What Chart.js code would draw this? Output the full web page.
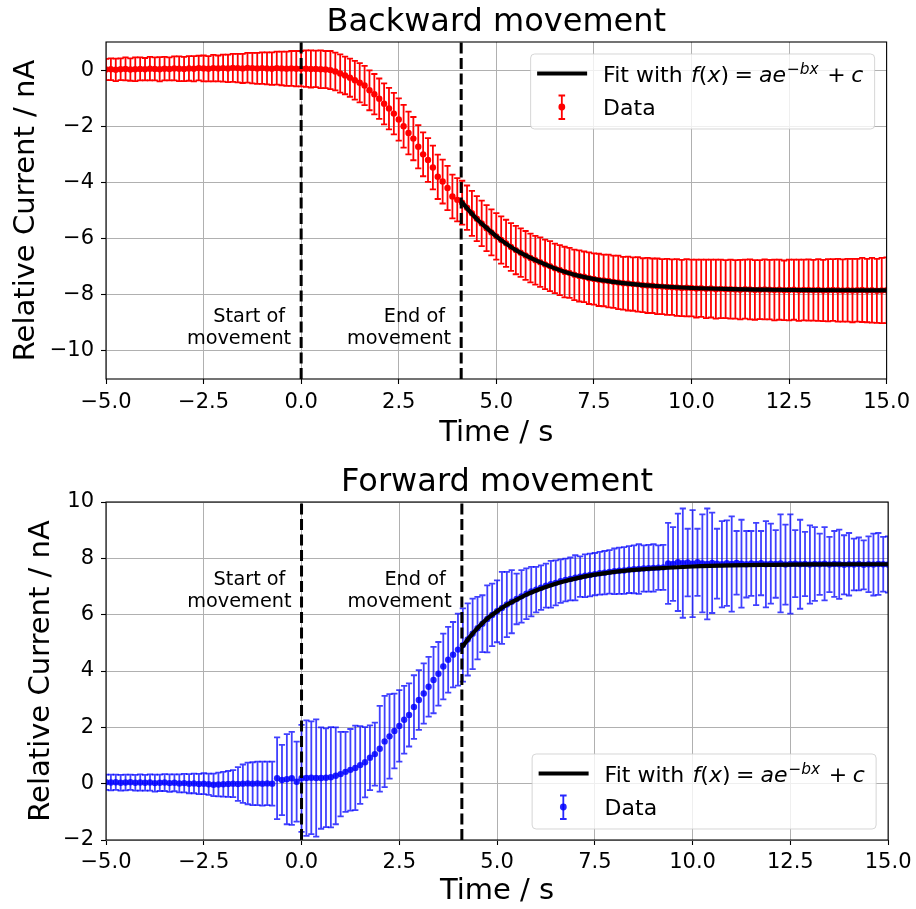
<!DOCTYPE html>
<html>
<head>
<meta charset="utf-8">
<title>Backward and forward movement</title>
<script src="https://cdn.jsdelivr.net/npm/chart.js@4.4.0/dist/chart.umd.min.js"></script>
<style>
  html, body { margin: 0; padding: 0; background: #fff; }
  #figure { position: relative; width: 916px; height: 909px; }
  canvas { position: absolute; left: 0; }
  #backward { top: 0; }
  #forward { top: 454px; }
</style>
</head>
<body>
<div id="figure">
  <canvas id="backward" width="916" height="454"></canvas>
  <canvas id="forward" width="916" height="455"></canvas>
</div>
<script>
// sample times (s), shared by both measurements
const time = [
  -5, -4.875, -4.75, -4.625, -4.5, -4.375, -4.25, -4.125,
  -4, -3.875, -3.75, -3.625, -3.5, -3.375, -3.25, -3.125,
  -3, -2.875, -2.75, -2.625, -2.5, -2.375, -2.25, -2.125,
  -2, -1.875, -1.75, -1.625, -1.5, -1.375, -1.25, -1.125,
  -1, -0.875, -0.75, -0.625, -0.5, -0.375, -0.25, -0.125,
  0, 0.125, 0.25, 0.375, 0.5, 0.625, 0.75, 0.875,
  1, 1.125, 1.25, 1.375, 1.5, 1.625, 1.75, 1.875,
  2, 2.125, 2.25, 2.375, 2.5, 2.625, 2.75, 2.875,
  3, 3.125, 3.25, 3.375, 3.5, 3.625, 3.75, 3.875,
  4, 4.125, 4.25, 4.375, 4.5, 4.625, 4.75, 4.875,
  5, 5.125, 5.25, 5.375, 5.5, 5.625, 5.75, 5.875,
  6, 6.125, 6.25, 6.375, 6.5, 6.625, 6.75, 6.875,
  7, 7.125, 7.25, 7.375, 7.5, 7.625, 7.75, 7.875,
  8, 8.125, 8.25, 8.375, 8.5, 8.625, 8.75, 8.875,
  9, 9.125, 9.25, 9.375, 9.5, 9.625, 9.75, 9.875,
  10, 10.125, 10.25, 10.375, 10.5, 10.625, 10.75, 10.875,
  11, 11.125, 11.25, 11.375, 11.5, 11.625, 11.75, 11.875,
  12, 12.125, 12.25, 12.375, 12.5, 12.625, 12.75, 12.875,
  13, 13.125, 13.25, 13.375, 13.5, 13.625, 13.75, 13.875,
  14, 14.125, 14.25, 14.375, 14.5, 14.625, 14.75, 14.875,
  15
];

// backward movement: mean relative current (nA) and its error
const backwardCurrent = [
  0.02, 0.03, 0.01, 0.03, 0.04, 0.02, 0.03, 0.04,
  0.03, 0.05, 0.04, 0.03, 0.05, 0.04, 0.06, 0.05,
  0.04, 0.06, 0.05, 0.07, 0.06, 0.05, 0.07, 0.06,
  0.07, 0.06, 0.08, 0.07, 0.06, 0.08, 0.07, 0.06,
  0.07, 0.06, 0.05, 0.07, 0.06, 0.05, 0.06, 0.05,
  0.05, 0.05, 0.04, 0.04, 0.03, 0.02, 0.0, -0.05,
  -0.12, -0.19, -0.27, -0.36, -0.45, -0.55, -0.72, -0.86,
  -1.02, -1.2, -1.37, -1.55, -1.76, -2.0, -2.24, -2.44,
  -2.73, -3.0, -3.2, -3.47, -3.8, -3.97, -4.2, -4.5,
  -4.62, -4.72, -4.9, -5.1, -5.29, -5.46, -5.63, -5.78,
  -5.92, -6.05, -6.17, -6.3, -6.41, -6.5, -6.6, -6.69,
  -6.77, -6.84, -6.92, -6.98, -7.06, -7.12, -7.19, -7.22,
  -7.29, -7.33, -7.36, -7.41, -7.44, -7.47, -7.49, -7.51,
  -7.54, -7.56, -7.59, -7.6, -7.62, -7.63, -7.66, -7.67,
  -7.68, -7.7, -7.71, -7.72, -7.73, -7.74, -7.76, -7.75,
  -7.76, -7.78, -7.77, -7.79, -7.78, -7.8, -7.79, -7.8,
  -7.8, -7.81, -7.82, -7.8, -7.81, -7.83, -7.82, -7.81,
  -7.82, -7.83, -7.82, -7.84, -7.83, -7.82, -7.84, -7.83,
  -7.83, -7.84, -7.83, -7.85, -7.84, -7.83, -7.84, -7.85,
  -7.84, -7.85, -7.84, -7.83, -7.85, -7.84, -7.86, -7.85,
  -7.84
];
const backwardError = [
  0.38, 0.39, 0.4, 0.39, 0.41, 0.4, 0.42, 0.41,
  0.4, 0.42, 0.41, 0.43, 0.42, 0.41, 0.43, 0.44,
  0.43, 0.44, 0.45, 0.44, 0.46, 0.45, 0.47, 0.46,
  0.48, 0.49, 0.5, 0.51, 0.52, 0.53, 0.54, 0.55,
  0.56, 0.57, 0.58, 0.59, 0.6, 0.61, 0.62, 0.63,
  0.63, 0.65, 0.66, 0.65, 0.67, 0.66, 0.68, 0.67,
  0.68, 0.67, 0.68, 0.69, 0.7, 0.7, 0.71, 0.72,
  0.72, 0.73, 0.74, 0.74, 0.75, 0.76, 0.76, 0.77,
  0.77, 0.78, 0.78, 0.78, 0.79, 0.78, 0.79, 0.78,
  0.77, 0.78, 0.79, 0.8, 0.8, 0.81, 0.82, 0.82,
  0.83, 0.84, 0.84, 0.85, 0.86, 0.86, 0.87, 0.87,
  0.87, 0.88, 0.88, 0.89, 0.88, 0.89, 0.9, 0.89,
  0.9, 0.91, 0.9, 0.92, 0.91, 0.93, 0.92, 0.94,
  0.93, 0.95, 0.94, 0.96, 0.95, 0.97, 0.96, 0.98,
  0.97, 0.99, 0.98, 1.0, 0.99, 1.01, 1.0, 1.02,
  1.01, 1.03, 1.02, 1.04, 1.03, 1.05, 1.04, 1.03,
  1.05, 1.04, 1.06, 1.05, 1.07, 1.06, 1.05, 1.07,
  1.06, 1.08, 1.07, 1.06, 1.08, 1.07, 1.09, 1.08,
  1.09, 1.08, 1.1, 1.09, 1.11, 1.1, 1.12, 1.11,
  1.12, 1.13, 1.12, 1.14, 1.13, 1.15, 1.14, 1.16,
  1.17
];

// forward movement: mean relative current (nA) and its error
const forwardCurrent = [
  0.05, 0.04, 0.05, 0.03, 0.04, 0.05, 0.03, 0.04,
  0.03, 0.04, 0.02, 0.03, 0.04, 0.02, 0.03, 0.01,
  0.02, 0.0, 0.01, -0.01, 0.0, -0.02, -0.04, -0.03,
  -0.02, -0.01, 0.0, -0.01, 0.0, 0.01, 0.0, 0.01,
  0.0, 0.01, 0.0, 0.19, 0.13, 0.16, 0.19, 0.07,
  0.19, 0.2, 0.21, 0.2, 0.2, 0.21, 0.23, 0.28,
  0.34, 0.42, 0.49, 0.56, 0.66, 0.76, 0.92, 1.05,
  1.24, 1.5, 1.68, 1.87, 2.05, 2.27, 2.44, 2.72,
  2.97, 3.2, 3.44, 3.68, 3.9, 4.16, 4.4, 4.58,
  4.76, 4.92, 5.12, 5.32, 5.52, 5.68, 5.85, 5.99,
  6.12, 6.24, 6.36, 6.46, 6.56, 6.65, 6.74, 6.82,
  6.89, 6.96, 7.03, 7.08, 7.13, 7.19, 7.23, 7.27,
  7.31, 7.35, 7.38, 7.41, 7.44, 7.47, 7.49, 7.52,
  7.54, 7.56, 7.57, 7.6, 7.61, 7.62, 7.64, 7.65,
  7.66, 7.67, 7.68, 7.82, 7.8, 7.86, 7.83, 7.85,
  7.81, 7.86, 7.82, 7.8, 7.84, 7.81, 7.79, 7.83,
  7.8, 7.84, 7.81, 7.79, 7.82, 7.8, 7.83, 7.79,
  7.81, 7.8, 7.82, 7.78, 7.8, 7.81, 7.79, 7.8,
  7.78, 7.8, 7.79, 7.81, 7.78, 7.8, 7.79, 7.77,
  7.79, 7.78, 7.8, 7.77, 7.79, 7.78, 7.8, 7.79,
  7.78
];
const forwardError = [
  0.27, 0.28, 0.27, 0.28, 0.28, 0.27, 0.28, 0.29,
  0.28, 0.29, 0.3, 0.29, 0.3, 0.31, 0.3, 0.32,
  0.33, 0.34, 0.35, 0.36, 0.37, 0.38, 0.4, 0.42,
  0.44, 0.46, 0.48, 0.6, 0.68, 0.74, 0.76, 0.77,
  0.78, 0.77, 0.78, 1.45, 1.25, 1.6, 1.65, 1.42,
  1.9, 2.05, 2.0, 2.08, 1.8, 1.75, 1.78, 1.72,
  1.5, 1.42, 1.45, 1.5, 1.38, 1.25, 1.15, 1.12,
  1.52, 1.62, 1.5, 1.33, 1.27, 1.2, 1.12, 1.13,
  1.06, 1.07, 1.06, 1.18, 1.13, 1.17, 1.17, 1.16,
  1.28, 1.3, 1.28, 1.25, 1.11, 1.01, 1.19, 1.11,
  1.1, 1.28, 1.16, 1.12, 0.9, 0.93, 0.9, 0.88,
  0.81, 0.79, 0.78, 0.83, 0.8, 0.77, 0.76, 0.76,
  0.8, 0.72, 0.76, 0.76, 0.75, 0.76, 0.77, 0.77,
  0.81, 0.82, 0.83, 0.83, 0.85, 0.88, 0.82, 0.83,
  0.84, 0.79, 0.8, 1.44, 1.31, 1.73, 1.94, 1.2,
  1.9, 1.19, 1.74, 1.97, 1.78, 1.24, 1.53, 1.52,
  1.69, 1.13, 1.56, 1.18, 1.15, 1.46, 1.14, 1.53,
  1.42, 1.2, 1.74, 1.42, 1.76, 1.19, 1.58, 1.14,
  1.39, 1.31, 1.09, 1.3, 0.98, 1.17, 1.23, 1.05,
  1.11, 0.92, 0.94, 0.87, 0.99, 1.1, 1.1, 0.97,
  1.0
];

// exponential fits
const fitTime = [4.1, 4.3, 4.5, 4.75, 5, 5.25, 5.5, 5.75, 6, 6.5, 7, 7.5, 8, 8.5, 9, 10, 11, 12, 13, 14, 15];
const backwardFit = [-4.67, -5.0, -5.3, -5.62, -5.92, -6.18, -6.41, -6.6, -6.77, -7.06, -7.29, -7.44, -7.54, -7.62, -7.68, -7.76, -7.8, -7.82, -7.835, -7.84, -7.845];
const forwardFit = [4.84, 5.2, 5.52, 5.86, 6.12, 6.35, 6.53, 6.71, 6.86, 7.1, 7.28, 7.42, 7.52, 7.59, 7.64, 7.71, 7.75, 7.77, 7.785, 7.79, 7.79];

const timeTicks = [-5, -2.5, 0, 2.5, 5, 7.5, 10, 12.5, 15];
const backwardTicks = [-10, -8, -6, -4, -2, 0];
const forwardTicks = [-2, 0, 2, 4, 6, 8, 10];
const movementTimes = [0, 4.1];
const movementLabels = [['Start of ', 'movement'], ['End of ', 'movement']];

Chart.defaults.font.family = '"DejaVu Sans", sans-serif';
Chart.defaults.color = '#000';

const FONT = '"DejaVu Sans"';

function minus(v) {
  return (v < 0 ? '\u2212' : '') + Math.abs(v);
}

function errorBarPlugin(values, errors, color) {
  return {
    id: 'errorBars',
    beforeDatasetsDraw(chart) {
      const { ctx, chartArea, scales } = chart;
      ctx.save();
      ctx.beginPath();
      ctx.rect(chartArea.left, chartArea.top, chartArea.width, chartArea.height);
      ctx.clip();
      ctx.strokeStyle = color;
      ctx.lineWidth = 1.8;
      values.forEach((v, i) => {
        const px = scales.x.getPixelForValue(time[i]);
        const top = scales.y.getPixelForValue(v + errors[i]);
        const bottom = scales.y.getPixelForValue(v - errors[i]);
        ctx.beginPath();
        ctx.moveTo(px, top);
        ctx.lineTo(px, bottom);
        ctx.moveTo(px - 3.1, top);
        ctx.lineTo(px + 3.1, top);
        ctx.moveTo(px - 3.1, bottom);
        ctx.lineTo(px + 3.1, bottom);
        ctx.stroke();
      });
      ctx.restore();
    }
  };
}

function markerPlugin(labelY) {
  return {
    id: 'markers',
    afterDatasetsDraw(chart) {
      const { ctx, chartArea, scales } = chart;
      ctx.save();
      ctx.strokeStyle = '#000';
      ctx.lineWidth = 3;
      ctx.setLineDash([11, 4.5]);
      movementTimes.forEach(t => {
        const px = scales.x.getPixelForValue(t);
        ctx.beginPath();
        ctx.moveTo(px, chartArea.bottom);
        ctx.lineTo(px, chartArea.top);
        ctx.stroke();
      });
      ctx.setLineDash([]);
      ctx.lineWidth = 1.1;
      ctx.strokeRect(chartArea.left, chartArea.top, chartArea.width, chartArea.height);

      ctx.fillStyle = '#000';
      ctx.font = '19.3px ' + FONT;
      ctx.textAlign = 'right';
      ctx.textBaseline = 'alphabetic';
      const base = scales.y.getPixelForValue(labelY);
      movementTimes.forEach((t, k) => {
        const px = scales.x.getPixelForValue(t) - 10;
        ctx.fillText(movementLabels[k][0], px, base - 21.7);
        ctx.fillText(movementLabels[k][1], px, base);
      });
      ctx.restore();
    }
  };
}

function legendPlugin(color, atTop) {
  return {
    id: 'fitLegend',
    afterDraw(chart) {
      const { ctx, chartArea } = chart;
      const w = 344, h = 75;
      const left = chartArea.right - 12.5 - w;
      const top = atTop ? chartArea.top + 11.5 : chartArea.bottom - 11.5 - h;
      ctx.save();
      ctx.beginPath();
      ctx.roundRect(left + 0.5, top + 0.5, w, h, 4);
      ctx.fillStyle = 'rgba(255,255,255,0.8)';
      ctx.fill();
      ctx.strokeStyle = 'rgba(204,204,204,0.8)';
      ctx.lineWidth = 1;
      ctx.stroke();

      // fit line sample
      ctx.strokeStyle = '#000';
      ctx.lineWidth = 3.8;
      ctx.beginPath();
      ctx.moveTo(left + 7, top + 20);
      ctx.lineTo(left + 57, top + 20);
      ctx.stroke();

      // data sample with error bar
      const ex = left + 31.7;
      ctx.strokeStyle = color;
      ctx.lineWidth = 1.8;
      ctx.beginPath();
      ctx.moveTo(ex, top + 42);
      ctx.lineTo(ex, top + 65.5);
      ctx.moveTo(ex - 3.3, top + 42);
      ctx.lineTo(ex + 3.3, top + 42);
      ctx.moveTo(ex - 3.3, top + 65.5);
      ctx.lineTo(ex + 3.3, top + 65.5);
      ctx.stroke();
      ctx.fillStyle = color;
      ctx.beginPath();
      ctx.arc(ex, top + 53.5, 3.4, 0, Math.PI * 2);
      ctx.fill();

      // texts
      ctx.fillStyle = '#000';
      ctx.textAlign = 'left';
      ctx.textBaseline = 'alphabetic';
      const N = '22px ' + FONT, I = 'italic 22px ' + FONT;
      const SN = '15.4px ' + FONT, SI = 'italic 15.4px ' + FONT;
      const pieces = [
        { t: 'Fit with ', f: N }, { t: 'f', f: I, gap: 1.5 }, { t: '(', f: N }, { t: 'x', f: I }, { t: ')', f: N },
        { t: '=', f: N, gap: 5.5 }, { t: 'ae', f: I, gap: 6 },
        { t: '\u2212', f: SN, rise: 8.4, gap: 1 }, { t: 'bx', f: SI, rise: 8.4 },
        { t: '+', f: N, gap: 8.5 }, { t: 'c', f: I, gap: 5.5 }
      ];
      let x = left + 73;
      const base = top + 28.5;
      pieces.forEach(p => {
        x += p.gap || 0;
        ctx.font = p.f;
        ctx.fillText(p.t, x, base - (p.rise || 0));
        x += ctx.measureText(p.t).width;
      });
      ctx.font = N;
      ctx.fillText('Data', left + 73, top + 61.7);
      ctx.restore();
    }
  };
}

function makeChart(id, o) {
  const points = time.map((t, i) => ({ x: t, y: o.values[i] }));
  const fit = fitTime.map((t, i) => ({ x: t, y: o.fit[i] }));
  return new Chart(document.getElementById(id), {
    type: 'scatter',
    data: {
      datasets: [{
        label: 'Fit',
        data: fit,
        showLine: true,
        borderColor: '#000',
        borderWidth: 4.2,
        pointRadius: 0,
        cubicInterpolationMode: 'monotone',
        clip: 0
      }, {
        label: 'Data',
        data: points,
        backgroundColor: o.pointColor,
        borderWidth: 0,
        pointRadius: 3.2,
        clip: 0
      }]
    },
    options: {
      responsive: false,
      animation: false,
      devicePixelRatio: 1,
      events: [],
      layout: { padding: { left: 0, right: 26, top: 0, bottom: 0 } },
      plugins: {
        legend: { display: false },
        tooltip: { enabled: false },
        title: {
          display: true,
          text: o.title,
          fullSize: false,
          color: '#000',
          font: { size: 32, weight: 'normal', lineHeight: 1 },
          padding: o.titlePad
        }
      },
      scales: {
        x: {
          type: 'linear',
          min: -5,
          max: 15,
          afterBuildTicks: s => { s.ticks = timeTicks.map(v => ({ value: v })); },
          afterFit: s => { s.height = o.xHeight; },
          border: { display: false },
          grid: { color: '#b0b0b0', lineWidth: 1, tickColor: '#000', tickLength: 5, tickWidth: 1.1 },
          ticks: {
            autoSkip: false,
            maxRotation: 0,
            padding: o.xTickPad,
            font: { size: 21 },
            color: '#000',
            callback: v => (v < 0 ? '\u2212' : '') + Math.abs(v).toFixed(1)
          },
          title: {
            display: true,
            text: 'Time / s',
            color: '#000',
            font: { size: 29 },
            padding: { top: 0, bottom: o.xTitlePad }
          }
        },
        y: {
          type: 'linear',
          min: o.yMin,
          max: o.yMax,
          afterBuildTicks: s => { s.ticks = o.yTicks.map(v => ({ value: v })); },
          afterFit: s => { s.width = 106; },
          border: { display: false },
          grid: { color: '#b0b0b0', lineWidth: 1, tickColor: '#000', tickLength: 5, tickWidth: 1.1 },
          ticks: {
            padding: 7,
            font: { size: 21 },
            color: '#000',
            callback: v => minus(v)
          },
          title: {
            display: true,
            text: 'Relative Current / nA',
            color: '#000',
            font: { size: 29 },
            padding: { top: o.yTitlePad, bottom: 0 }
          }
        }
      }
    },
    plugins: [
      errorBarPlugin(o.values, o.errors, o.barColor),
      markerPlugin(o.labelY),
      legendPlugin(o.pointColor, o.legendTop)
    ]
  });
}

makeChart('backward', {
  title: 'Backward movement',
  values: backwardCurrent,
  errors: backwardError,
  fit: backwardFit,
  pointColor: '#ff0000',
  barColor: '#ff0000',
  yMin: -11,
  yMax: 1,
  yTicks: backwardTicks,
  titlePad: { top: 7, bottom: 3 },
  xHeight: 75,
  xTickPad: 6,
  xTitlePad: 3,
  yTitlePad: 9,
  labelY: -9.75,
  legendTop: true
});

makeChart('forward', {
  title: 'Forward movement',
  values: forwardCurrent,
  errors: forwardError,
  fit: forwardFit,
  pointColor: 'rgba(0,0,255,0.85)',
  barColor: 'rgba(0,0,255,0.75)',
  yMin: -2,
  yMax: 10,
  yTicks: forwardTicks,
  titlePad: { top: 13, bottom: 3 },
  xHeight: 69,
  xTickPad: 4.5,
  xTitlePad: 0,
  yTitlePad: 24,
  labelY: 6.27,
  legendTop: false
});
</script>
</body>
</html>
